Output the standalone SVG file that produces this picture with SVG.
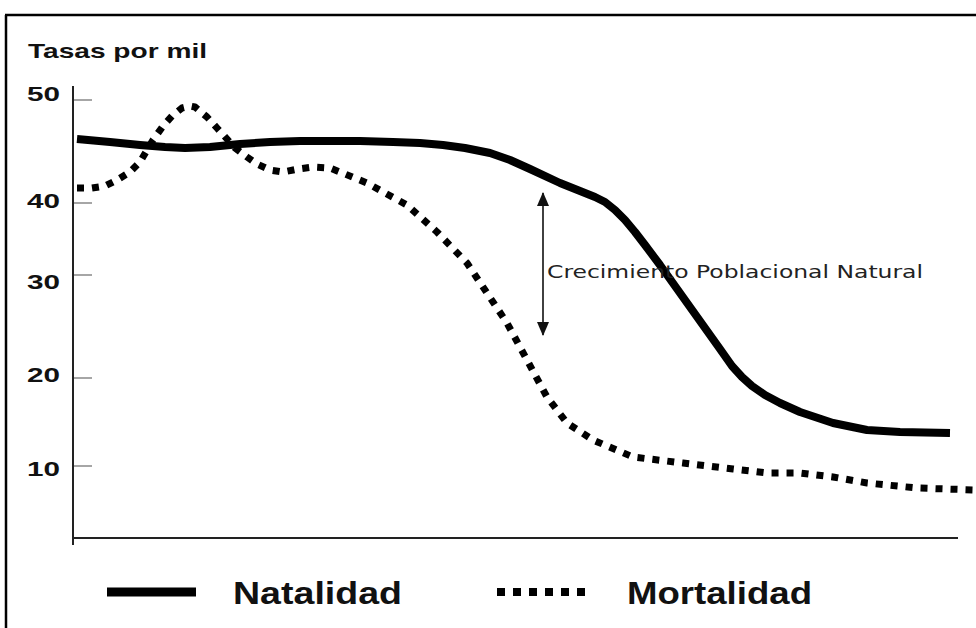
<svg xmlns="http://www.w3.org/2000/svg" width="976" height="628" viewBox="0 0 976 628">
<style>
.lbl{font-family:"Liberation Sans",Arial,sans-serif;font-weight:bold;fill:#111}
.num{font-size:21px}
.axis{stroke:#222;stroke-width:2;fill:none}
.tick{stroke:#888;stroke-width:1.5}
.nat{fill:none;stroke:#000;stroke-width:8;stroke-linejoin:round;stroke-linecap:butt}
.mor{fill:none;stroke:#000;stroke-width:7;stroke-dasharray:7 8;stroke-linejoin:round}
.note{font-family:"DejaVu Sans",Verdana,sans-serif;font-size:17px;fill:#222}
</style>
<defs>
<marker id="ah" viewBox="0 0 14 12" refX="13" refY="6" markerWidth="14" markerHeight="12" markerUnits="userSpaceOnUse" orient="auto">
<path d="M0,0 L14,6 L0,12 Z" fill="#111"/>
</marker>
</defs>
<rect width="976" height="628" fill="#fff"/>
<g id="frame">
<line x1="5" y1="15" x2="976" y2="15" stroke="#000" stroke-width="2.5"/>
<line x1="6" y1="15" x2="6" y2="628" stroke="#000" stroke-width="2.5"/>
</g>
<g id="y-axis">
<text class="lbl" x="28" y="58" font-size="21" textLength="179" lengthAdjust="spacingAndGlyphs">Tasas por mil</text>
<line class="axis" x1="73" y1="86" x2="73" y2="545"/>
<line class="tick" x1="74" y1="100" x2="92" y2="100"/>
<line class="tick" x1="74" y1="203" x2="92" y2="203"/>
<line class="tick" x1="74" y1="275" x2="92" y2="275"/>
<line class="tick" x1="74" y1="378" x2="92" y2="378"/>
<line class="tick" x1="74" y1="466" x2="92" y2="466"/>
<text class="lbl num" x="27" y="101" textLength="33" lengthAdjust="spacingAndGlyphs">50</text>
<text class="lbl num" x="27" y="208" textLength="33" lengthAdjust="spacingAndGlyphs">40</text>
<text class="lbl num" x="27" y="289" textLength="33" lengthAdjust="spacingAndGlyphs">30</text>
<text class="lbl num" x="27" y="382" textLength="33" lengthAdjust="spacingAndGlyphs">20</text>
<text class="lbl num" x="27" y="476" textLength="33" lengthAdjust="spacingAndGlyphs">10</text>
</g>
<g id="x-axis">
<line class="axis" x1="72" y1="538" x2="958" y2="538"/>
</g>
<g id="connectors">
<polyline id="natalidad" class="nat" points="77,139 110,142 140,145 165,147 185,148 210,147 240,144 270,142 300,141 330,141 360,141 393,142 420,143 443,145 465,148 490,153 510,160 530,169 560,183 580,191 595,197 605,202 615,210 625,220 635,232 645,245 660,265 680,293 700,321 720,349 732,366 742,377 752,386 765,395 780,403 800,412 833,423 867,430 900,432 950,433"/>
<polyline id="mortalidad" class="mor" points="77,188 92,188 105,186 117,180 130,172 140,162 153,140 163,126 172,116 182,108 190,106 195,107 207,117 217,128 227,139 235,148 247,157 257,164 270,170 283,172 298,169 313,167 330,168 345,174 367,183 385,193 407,205 437,232 467,263 487,293 507,323 527,360 547,397 567,423 593,440 633,457 683,463 733,469 767,473 800,473 833,477 867,483 917,488 976,490"/>
<line id="gap-arrow" x1="543" y1="264" x2="543" y2="193" stroke="#111" stroke-width="1.6" marker-end="url(#ah)"/>
<line x1="543" y1="264" x2="543" y2="335" stroke="#111" stroke-width="1.6" marker-end="url(#ah)"/>
</g>
<g id="label-crecimiento">
<text class="note" x="547" y="278" textLength="376" lengthAdjust="spacingAndGlyphs">Crecimiento Poblacional Natural</text>
</g>
<g id="legend-natalidad">
<line x1="107" y1="592" x2="196" y2="592" stroke="#000" stroke-width="9"/>
<text class="lbl" x="233" y="604" font-size="31" textLength="169" lengthAdjust="spacingAndGlyphs">Natalidad</text>
</g>
<g id="legend-mortalidad">
<line x1="497" y1="592" x2="585" y2="592" stroke="#000" stroke-width="8" stroke-dasharray="8 8"/>
<text class="lbl" x="627" y="604" font-size="31" textLength="185" lengthAdjust="spacingAndGlyphs">Mortalidad</text>
</g>
</svg>
